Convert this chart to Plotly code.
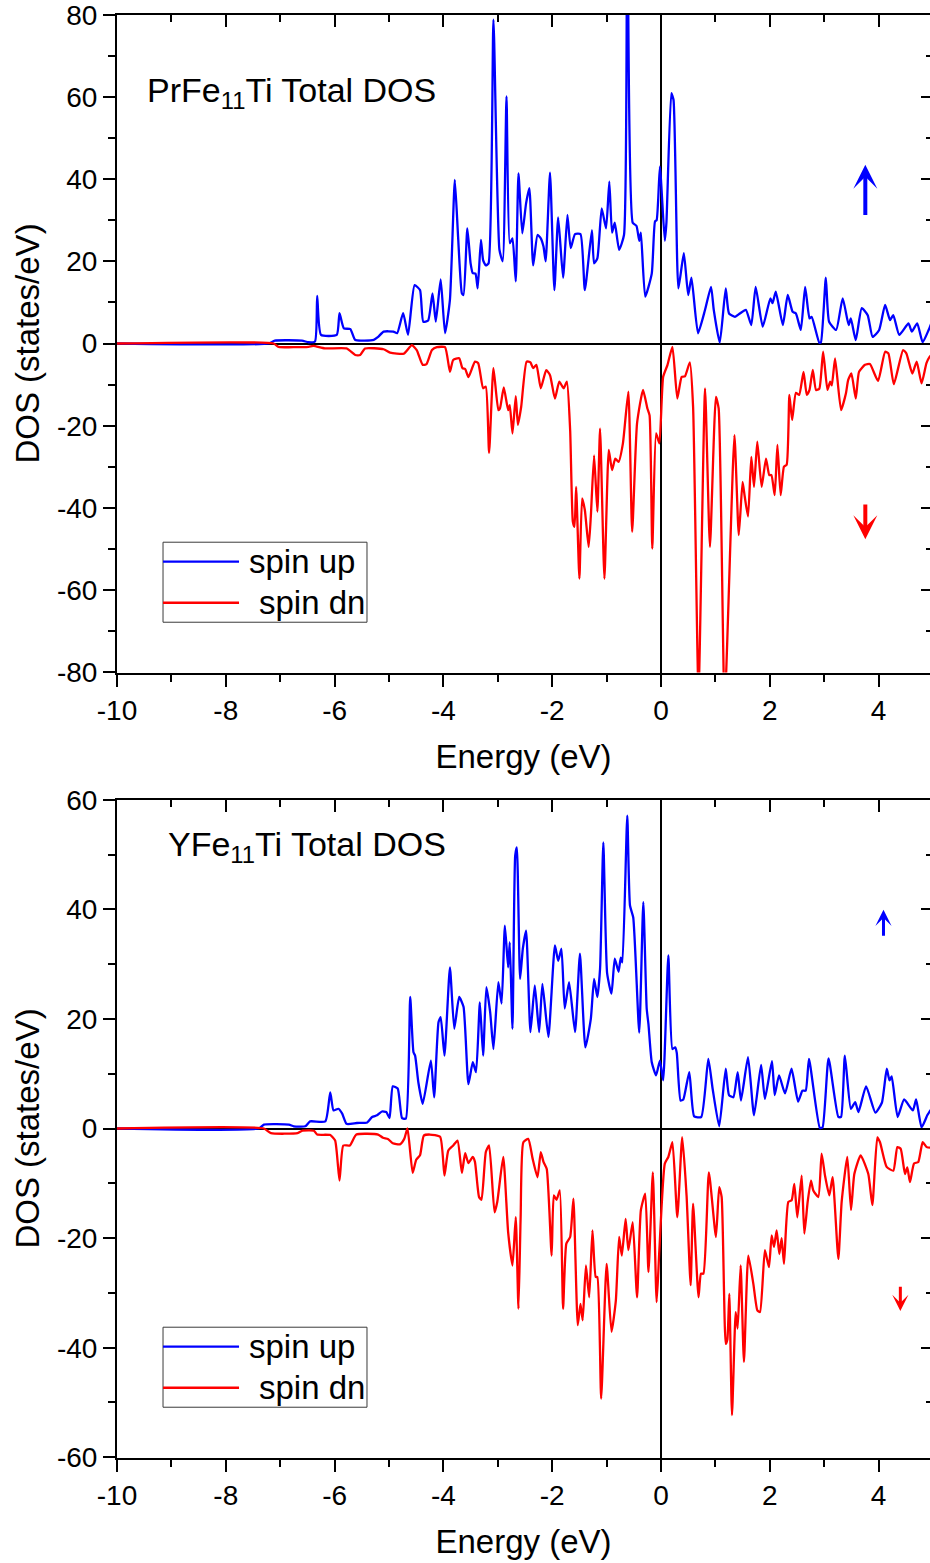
import plotly.graph_objects as go

FONT = "Liberation Sans, Arial, Helvetica, sans-serif"
BLUE = "#0000ff"
RED = "#ff0000"

# ---- PrFe11Ti total DOS: (energy eV, states/eV) ----
pr_up = [(-10, 0), (-7.21, 0), (-7.1, 0.7), (-6.6, 0.7), (-6.48, 0.3), (-6.36, 0.5), (-6.32, 11.6), (-6.25, 2.1),
         (-5.96, 2.1), (-5.91, 7.4), (-5.83, 3.7), (-5.71, 3.5), (-5.62, 0.85), (-5.28, 0.9), (-5.2, 1.6),
         (-5.10, 2.9), (-4.92, 2.9), (-4.85, 2.5), (-4.74, 7.4), (-4.65, 2.1), (-4.53, 14.2), (-4.43, 13.0),
         (-4.37, 5.3), (-4.28, 5.6), (-4.20, 12.2), (-4.14, 5.3), (-4.05, 15.6), (-3.97, 2.5), (-3.88, 10.6),
         (-3.79, 39.8), (-3.73, 26), (-3.66, 12.2), (-3.63, 11.8), (-3.56, 28), (-3.50, 19.5), (-3.46, 17.1),
         (-3.41, 17), (-3.37, 13.4), (-3.31, 25.2), (-3.27, 20.3), (-3.22, 19), (-3.17, 19.5), (-3.08, 78.8),
         (-2.97, 22.8), (-2.91, 20), (-2.84, 60.1), (-2.78, 24.4), (-2.73, 25.6), (-2.67, 15.1), (-2.62, 41.4),
         (-2.55, 26.8), (-2.48, 34.1), (-2.42, 37.8), (-2.35, 19), (-2.27, 26.4), (-2.21, 25.6), (-2.16, 23.6),
         (-2.12, 20), (-2.04, 41.6), (-1.96, 13), (-1.89, 30.7), (-1.80, 16), (-1.72, 31.3), (-1.66, 23.2),
         (-1.58, 26.6), (-1.48, 26.6), (-1.40, 13), (-1.27, 27.6), (-1.23, 19.5), (-1.17, 20.7), (-1.09, 32.9),
         (-1.01, 28), (-0.95, 39.4), (-0.90, 27), (-0.85, 29.4), (-0.77, 22.8), (-0.68, 26.4), (-0.62, 115),
         (-0.52, 29.4), (-0.45, 28.6), (-0.40, 25), (-0.37, 27), (-0.29, 11.4), (-0.17, 17), (-0.11, 29.7),
         (-0.08, 30), (-0.02, 43), (0.07, 25), (0.10, 29.4), (0.19, 60.9), (0.23, 59.3), (0.32, 13.4), (0.42, 22),
         (0.50, 11.8), (0.56, 16), (0.68, 2.5), (0.81, 8.2), (0.92, 13.8), (0.97, 8.2), (1.08, 0.2), (1.19, 13.4),
         (1.25, 7.3), (1.36, 6.5), (1.45, 7.3), (1.56, 8.2), (1.66, 4.5), (1.74, 13.8), (1.87, 4.1), (2.01, 11),
         (2.05, 9.8), (2.11, 12.6), (2.24, 4.5), (2.33, 11.8), (2.42, 7.7), (2.48, 7.3), (2.57, 3.3), (2.65, 13.8),
         (2.73, 6.1), (2.77, 6.5), (2.91, 0.2), (2.94, 0.3), (3.03, 16), (3.09, 5.3), (3.22, 3.3), (3.34, 11),
         (3.45, 4.5), (3.49, 6.1), (3.58, 0.8), (3.69, 8.6), (3.80, 6.9), (3.89, 1.6), (4.01, 3.3), (4.12, 9.4),
         (4.21, 5.7), (4.27, 6.9), (4.38, 2.1), (4.55, 4.9), (4.61, 2.9), (4.71, 4.9), (4.81, 0.3), (4.92, 3.3),
         (5.0, 6)]

pr_dn = [(-10, 0), (-7.12, 0), (-7.03, -0.8), (-6.48, -0.8), (-6.39, -0.6), (-6.18, -1.2), (-5.78, -1.2),
         (-5.62, -2.8), (-5.53, -2.8), (-5.44, -1.2), (-5.10, -1.4), (-4.98, -2.2), (-4.73, -2.5), (-4.58, -0.4),
         (-4.49, -1.6), (-4.38, -5.2), (-4.31, -5.0), (-4.21, -1.6), (-4.12, -0.9), (-3.97, -0.9), (-3.88, -6.9),
         (-3.82, -4.0), (-3.71, -3.6), (-3.65, -6.0), (-3.60, -6.2), (-3.54, -8.2), (-3.42, -4.4), (-3.36, -4.8),
         (-3.27, -10.9), (-3.22, -10.5), (-3.16, -26.6), (-3.08, -6.0), (-2.99, -16.2), (-2.96, -15.8),
         (-2.89, -10.7), (-2.81, -16.2), (-2.78, -15), (-2.73, -21.9), (-2.67, -12.8), (-2.63, -19.8),
         (-2.57, -15.4), (-2.47, -4.4), (-2.40, -4.6), (-2.35, -6.0), (-2.29, -5.2), (-2.21, -10.9), (-2.11, -6.5),
         (-2.04, -7.7), (-1.95, -13.4), (-1.87, -9.3), (-1.79, -10.9), (-1.73, -9.3), (-1.67, -21.1),
         (-1.62, -43.4), (-1.59, -44.6), (-1.56, -34.9), (-1.50, -57.2), (-1.45, -37.7), (-1.40, -40.5),
         (-1.33, -49.5), (-1.29, -42.1), (-1.23, -27.2), (-1.17, -40.9), (-1.12, -20.7), (-1.04, -57.2),
         (-0.96, -25.9), (-0.90, -30.8), (-0.84, -28), (-0.78, -28.8), (-0.70, -24.3), (-0.60, -11.7),
         (-0.53, -45.8), (-0.44, -19.4), (-0.33, -11.3), (-0.25, -15.8), (-0.21, -17.5), (-0.16, -49.9),
         (-0.09, -21.9), (-0.03, -24.3), (0.04, -8.1), (0.12, -5.2), (0.21, -0.8), (0.30, -13.4), (0.38, -8.1),
         (0.44, -8.0), (0.53, -4.6), (0.59, -15.4), (0.69, -85), (0.81, -10.9), (0.90, -49.5), (1.01, -13),
         (1.06, -15.8), (1.17, -88), (1.35, -22.3), (1.43, -46.6), (1.50, -33.7), (1.54, -37.3), (1.60, -42.1),
         (1.66, -27.6), (1.71, -34.9), (1.77, -23.9), (1.85, -34.9), (1.93, -28), (1.99, -32), (2.03, -32),
         (2.09, -36.9), (2.14, -24.7), (2.20, -36.9), (2.26, -30), (2.31, -29.5), (2.36, -12.5), (2.41, -18.6),
         (2.48, -12), (2.54, -12.5), (2.62, -6.9), (2.68, -12.5), (2.73, -11.3), (2.79, -6.4), (2.85, -11.3),
         (2.91, -11), (2.98, -2), (3.06, -11.3), (3.11, -9.3), (3.14, -10.2), (3.20, -3.6), (3.31, -16.2),
         (3.40, -12.1), (3.44, -8.9), (3.50, -7.3), (3.58, -13.4), (3.64, -6.9), (3.75, -5.2), (3.84, -5.0),
         (3.99, -9.1), (4.12, -2.0), (4.18, -2.4), (4.28, -9.9), (4.45, -1.6), (4.51, -2.4), (4.62, -7.3),
         (4.70, -4.4), (4.79, -9.7), (4.88, -4.8), (4.94, -3.2), (5.0, -2.5)]

# ---- YFe11Ti total DOS: (energy eV, states/eV) ----
y_up = [(-10, 0), (-7.39, 0), (-7.30, 0.7), (-6.84, 0.7), (-6.75, 0.4), (-6.54, 0.4), (-6.45, 1.3), (-6.17, 1.3),
        (-6.08, 6.6), (-6.02, 3.3), (-5.93, 3.6), (-5.86, 2.7), (-5.78, 0.85), (-5.59, 1.0), (-5.40, 1.1),
        (-5.31, 2.1), (-5.22, 2.4), (-5.13, 3.1), (-5.05, 3.0), (-4.99, 1.9), (-4.93, 7.7), (-4.84, 7.3),
        (-4.76, 1.9), (-4.69, 1.8), (-4.61, 24), (-4.55, 13.9), (-4.52, 13.3), (-4.46, 8.4), (-4.38, 4.5),
        (-4.23, 12.4), (-4.17, 5.7), (-4.09, 19.4), (-4.05, 20.3), (-3.98, 13.3), (-3.88, 29.4), (-3.80, 18.2),
        (-3.71, 24), (-3.63, 22.2), (-3.54, 8.1), (-3.46, 12.1), (-3.40, 10.3), (-3.33, 23), (-3.27, 13.3),
        (-3.21, 25.8), (-3.14, 21.2), (-3.08, 14.5), (-2.99, 26.7), (-2.93, 22.8), (-2.87, 37.0), (-2.81, 29.4),
        (-2.78, 34), (-2.73, 18.2), (-2.68, 49.8), (-2.65, 51.3), (-2.59, 27.3), (-2.54, 32.8), (-2.48, 36.1),
        (-2.40, 17.6), (-2.32, 26.1), (-2.24, 17.6), (-2.18, 26.4), (-2.07, 16.7), (-1.95, 33.4), (-1.89, 30.6),
        (-1.83, 32.8), (-1.77, 21.9), (-1.69, 26.7), (-1.58, 17.6), (-1.49, 31.9), (-1.39, 14.8), (-1.29, 20),
        (-1.23, 27.3), (-1.17, 24), (-1.12, 29.2), (-1.06, 52.2), (-0.99, 28.3), (-0.91, 24.6), (-0.85, 31),
        (-0.78, 28.6), (-0.74, 31.2), (-0.71, 30.3), (-0.62, 57.1), (-0.57, 40.7), (-0.51, 38.5), (-0.40, 17.5),
        (-0.325, 41.3), (-0.263, 21.9), (-0.23, 19), (-0.17, 12.1), (-0.09, 9.7), (-0.02, 12.4), (0.04, 8.8),
        (0.135, 31.6), (0.21, 14.5), (0.26, 14.8), (0.29, 13.8), (0.36, 5.1), (0.41, 5.3), (0.52, 10.3),
        (0.61, 2.2), (0.74, 2.1), (0.87, 12.7), (0.95, 7.2), (1.07, 0.4), (1.19, 10.9), (1.25, 6.1), (1.33, 5.7),
        (1.41, 10.3), (1.47, 5.1), (1.60, 13), (1.71, 2.4), (1.84, 11.6), (1.91, 5.4), (2.04, 12.3), (2.09, 6.1),
        (2.17, 9.7), (2.28, 6.4), (2.40, 10.9), (2.52, 4.9), (2.60, 6.9), (2.66, 6.9), (2.72, 12.7), (2.92, 0.1),
        (2.97, 0.2), (3.08, 12.8), (3.26, 2.1), (3.31, 2.1), (3.38, 13.3), (3.49, 3.6), (3.57, 4.8), (3.63, 3),
        (3.77, 7.7), (3.94, 2.9), (4.06, 4.7), (4.15, 10.9), (4.20, 8.8), (4.24, 9.5), (4.35, 2.1), (4.47, 5.3),
        (4.63, 3.3), (4.69, 5.3), (4.79, 0.2), (4.90, 2.5), (5.0, 4)]

y_dn = [(-10, 0), (-7.30, 0), (-7.17, -0.85), (-6.68, -0.85), (-6.59, -0.4), (-6.38, -0.4), (-6.32, -1.1),
        (-6.08, -1.2), (-5.99, -2.2), (-5.91, -9.5), (-5.84, -3.1), (-5.72, -3.1), (-5.60, -1.1), (-5.20, -1.1),
        (-5.11, -1.7), (-5.02, -1.9), (-4.93, -2.7), (-4.80, -2.9), (-4.72, -1.9), (-4.66, 0), (-4.565, -8.1),
        (-4.50, -5.7), (-4.43, -4.9), (-4.36, -1.3), (-4.25, -1.1), (-4.06, -1.5), (-3.98, -8.6), (-3.91, -4.0),
        (-3.82, -3.1), (-3.74, -2.2), (-3.66, -8.1), (-3.60, -4.5), (-3.54, -6.3), (-3.46, -5.2), (-3.42, -6.1),
        (-3.345, -12.5), (-3.30, -13), (-3.22, -4.3), (-3.16, -3.1), (-3.06, -15.3), (-3.01, -13.4),
        (-2.90, -5.2), (-2.81, -18.9), (-2.73, -25), (-2.67, -16.2), (-2.62, -32.9), (-2.58, -16.2),
        (-2.53, -2.5), (-2.44, -1.9), (-2.36, -5.5), (-2.27, -8.9), (-2.21, -4.3), (-2.16, -6.1), (-2.10, -7.4),
        (-2.01, -23.2), (-1.97, -12.2), (-1.92, -13), (-1.86, -11.3), (-1.80, -32.9), (-1.74, -21),
        (-1.67, -19.8), (-1.61, -12.8), (-1.53, -35.9), (-1.48, -32), (-1.44, -35), (-1.38, -25), (-1.32, -30.8),
        (-1.26, -18.6), (-1.20, -27.1), (-1.17, -27.1), (-1.10, -49.3), (-1.00, -24.7), (-0.91, -37.1),
        (-0.83, -31.4), (-0.77, -19.8), (-0.72, -23.2), (-0.65, -16.5), (-0.60, -22.2), (-0.52, -17.1),
        (-0.44, -30.8), (-0.37, -14.9), (-0.29, -11.9), (-0.23, -26.2), (-0.15, -8), (-0.08, -31.7),
        (-0.03, -22.2), (0.07, -6.4), (0.135, -5.2), (0.21, -2.5), (0.30, -16.2), (0.39, -1.6), (0.47, -12.2),
        (0.545, -28.6), (0.59, -13.7), (0.69, -30.8), (0.735, -26.5), (0.78, -26.5), (0.88, -8), (1.01, -19.8),
        (1.07, -10.7), (1.115, -12.5), (1.19, -39.3), (1.22, -38.5), (1.256, -30.2), (1.305, -52.3),
        (1.373, -33.5), (1.409, -36.5), (1.464, -25), (1.525, -42.6), (1.605, -23.2), (1.697, -28.3),
        (1.771, -33.2), (1.82, -33.5), (1.91, -22.2), (1.985, -25.3), (2.034, -19.5), (2.077, -21.6),
        (2.126, -18.6), (2.175, -22.9), (2.218, -20), (2.261, -24.7), (2.341, -13.4), (2.402, -13.1),
        (2.451, -10.1), (2.506, -16.2), (2.586, -8.6), (2.635, -19.2), (2.696, -13.4), (2.757, -9.5),
        (2.80, -11.3), (2.892, -12.5), (2.953, -4.6), (3.015, -8.6), (3.094, -12.2), (3.155, -8.9),
        (3.26, -23.8), (3.321, -13.4), (3.425, -5.2), (3.493, -14.9), (3.554, -8.3), (3.67, -4.9),
        (3.811, -8.3), (3.885, -14), (3.977, -1.6), (4.026, -2.5), (4.148, -7), (4.271, -7.7), (4.345, -3.4),
        (4.406, -3.7), (4.485, -8.3), (4.528, -7.1), (4.577, -9.8), (4.651, -6.4), (4.73, -6.1), (4.81, -2.5),
        (4.884, -3.4), (4.945, -3.5), (5.0, -3.4)]

panel_titles = ["PrFe<sub>11</sub>Ti Total DOS", "YFe<sub>11</sub>Ti Total DOS"]
legend_labels = ["spin up", "spin dn"]
x_title = "Energy (eV)"
y_title = "DOS (states/eV)"
x_ticks = [-10, -8, -6, -4, -2, 0, 2, 4]
y_ticks = [[-80, -60, -40, -20, 0, 20, 40, 60, 80], [-60, -40, -20, 0, 20, 40, 60]]
x_range = [-10, 4.945]
y_ranges = [[-80.05, 80.05], [-60.04, 60.04]]

W, H = 930, 1563
# panel vertical extents (paper fractions)
top_dom = [1 - 672.5 / H, 1 - 14.5 / H]
bot_dom = [1 - 1457.5 / H, 1 - 799.5 / H]

fig = go.Figure()


def unzip(pairs):
    return [p[0] for p in pairs], [p[1] for p in pairs]


def label(v):
    # plain hyphen-minus for negative tick values
    return str(v)


LINE_W = 2.3
for (up, dn), (xa, ya) in zip([(pr_up, pr_dn), (y_up, y_dn)], [("x", "y"), ("x2", "y2")]):
    ex, dv = unzip(up)
    fig.add_trace(go.Scatter(x=ex, y=dv, mode="lines",
                             line=dict(color=BLUE, width=LINE_W, shape="spline", smoothing=0.5),
                             xaxis=xa, yaxis=ya, name=legend_labels[0], showlegend=False))
    ex, dv = unzip(dn)
    fig.add_trace(go.Scatter(x=ex, y=dv, mode="lines",
                             line=dict(color=RED, width=LINE_W, shape="spline", smoothing=0.5),
                             xaxis=xa, yaxis=ya, name=legend_labels[1], showlegend=False))

# empty traces so the mirrored frame axes get drawn
fig.add_trace(go.Scatter(x=[None], y=[None], xaxis="x3", yaxis="y3", showlegend=False, hoverinfo="skip"))
fig.add_trace(go.Scatter(x=[None], y=[None], xaxis="x4", yaxis="y4", showlegend=False, hoverinfo="skip"))

tick_font = dict(family=FONT, size=28, color="black")
title_font = dict(family=FONT, size=33, color="black")


def x_main(anchor):
    return dict(domain=[0, 1], anchor=anchor, range=x_range, showline=True, linecolor="black", linewidth=2,
                ticks="outside", ticklen=12, tickwidth=2, tickcolor="black",
                tickmode="array", tickvals=x_ticks, ticktext=[label(v) for v in x_ticks],
                minor=dict(ticks="outside", ticklen=7, tickwidth=2, tickcolor="black", tick0=-10, dtick=1,
                           showgrid=False),
                tickfont=tick_font, ticklabeloverflow="allow",
                showgrid=False, zeroline=True, zerolinecolor="black", zerolinewidth=2,
                title=dict(text=x_title, font=title_font, standoff=20), automargin=False)


def x_frame(over, anchor):
    return dict(overlaying=over, anchor=anchor, side="top", range=x_range, showline=True, linecolor="black",
                linewidth=2, ticks="inside", ticklen=12, tickwidth=2, tickcolor="black",
                tickmode="array", tickvals=x_ticks,
                minor=dict(ticks="inside", ticklen=7, tickwidth=2, tickcolor="black", tick0=-10, dtick=1,
                           showgrid=False),
                showticklabels=False, showgrid=False, zeroline=False)


def y_main(dom, rng, ticks, anchor):
    return dict(domain=dom, anchor=anchor, range=rng, showline=True, linecolor="black", linewidth=2,
                ticks="outside", ticklen=12, tickwidth=2, tickcolor="black",
                tickmode="array", tickvals=ticks, ticktext=[label(v) for v in ticks],
                minor=dict(ticks="outside", ticklen=7, tickwidth=2, tickcolor="black", tick0=0, dtick=10,
                           showgrid=False),
                tickfont=tick_font, ticklabeloverflow="allow",
                showgrid=False, zeroline=True, zerolinecolor="black", zerolinewidth=2,
                title=dict(text=y_title, font=title_font, standoff=7), automargin=False)


def y_frame(over, rng, ticks, anchor):
    return dict(overlaying=over, anchor=anchor, side="right", range=rng, showline=False,
                ticks="inside", ticklen=9, tickwidth=2, tickcolor="black",
                tickmode="array", tickvals=ticks,
                minor=dict(ticks="inside", ticklen=4, tickwidth=2, tickcolor="black", tick0=0, dtick=10,
                           showgrid=False),
                showticklabels=False, showgrid=False, zeroline=False)


fig.update_layout(
    width=W, height=H, margin=dict(l=117, r=0, t=0, b=0),
    paper_bgcolor="white", plot_bgcolor="white", showlegend=False,
    font=dict(family=FONT, color="black"),
    xaxis=x_main("y"), yaxis=y_main(top_dom, y_ranges[0], y_ticks[0], "x"),
    xaxis2=x_main("y2"), yaxis2=y_main(bot_dom, y_ranges[1], y_ticks[1], "x2"),
    xaxis3=x_frame("x", "y"), yaxis3=y_frame("y", y_ranges[0], y_ticks[0], "x"),
    xaxis4=x_frame("x2", "y2"), yaxis4=y_frame("y2", y_ranges[1], y_ticks[1], "x2"),
)

shapes = []
annotations = []
for i, (xa, ya) in enumerate([("x", "y"), ("x2", "y2")]):
    xd, yd = xa + " domain", ya + " domain"
    # panel title
    annotations.append(dict(text=panel_titles[i], xref=xd, yref=yd, x=[0.0345, 0.0605][i],
                            y=[0.881, 0.928][i], xanchor="left", yanchor="middle", showarrow=False,
                            font=dict(family=FONT, size=34, color="black")))
    # legend box
    shapes.append(dict(type="rect", xref=xd, yref=yd, x0=0.0566, x1=0.3075, y0=0.0764, y1=0.1980,
                       line=dict(color="#3a3a3a", width=1), fillcolor="rgba(0,0,0,0)", layer="above"))
    for j, (col, ly) in enumerate([(BLUE, 0.1685), (RED, 0.1060)]):
        shapes.append(dict(type="line", xref=xd, yref=yd, x0=0.0566, x1=0.1501, y0=ly, y1=ly,
                           line=dict(color=col, width=LINE_W)))
        annotations.append(dict(text=legend_labels[j], xref=xd, yref=yd, x=[0.1600, 0.1722][j], y=ly,
                                xanchor="left", yanchor="middle", showarrow=False,
                                font=dict(family=FONT, size=33, color="black")))

# spin direction arrows
arrow_specs = [
    ("x", "y", 3.756, 43.5, 30.9, BLUE, 4, 1.0),
    ("x", "y", 3.756, -47.6, -38.8, RED, 4, 1.0),
    ("x2", "y2", 4.09, 39.9, 34.9, BLUE, 3, 0.9),
    ("x2", "y2", 4.40, -33.3, -28.6, RED, 3, 0.9),
]
for xa, ya, ax_, tip, tail, col, w, s in arrow_specs:
    annotations.append(dict(x=ax_, y=tip, ax=ax_, ay=tail, xref=xa, yref=ya, axref=xa, ayref=ya,
                            text="", showarrow=True, arrowhead=3, arrowsize=s, arrowwidth=w, arrowcolor=col))

fig.update_layout(shapes=shapes, annotations=annotations)

fig.write_html("out.html")
